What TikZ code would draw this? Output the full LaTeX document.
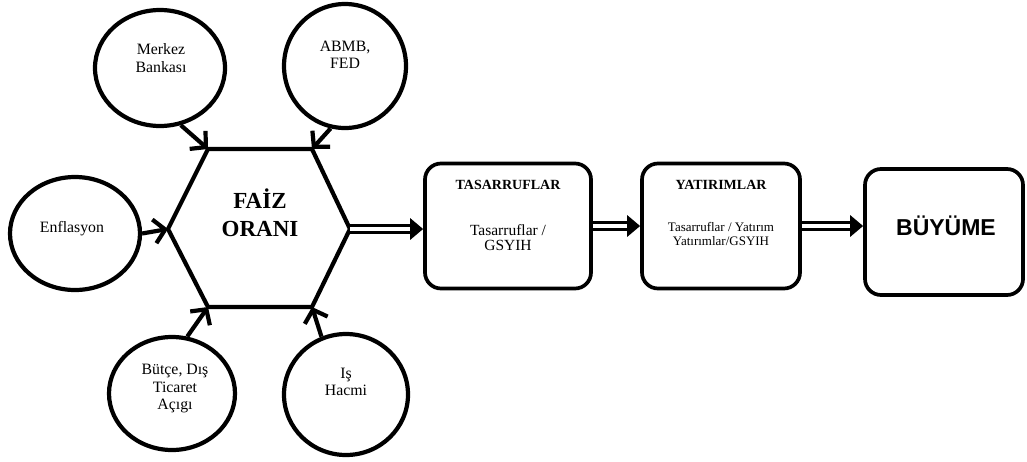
\documentclass[tikz,border=0pt]{standalone}
\usepackage{fontspec}
\setmainfont{Liberation Serif}
\newfontfamily\arialfont{Liberation Sans}
\usetikzlibrary{shapes.geometric,arrows.meta}
\begin{document}
\begin{tikzpicture}[x=1pt,y=-1pt,
  bubble/.style={ellipse, draw, line width=4.2pt, inner sep=0pt},
  bubbletext/.style={align=center, font=\fontsize{15.8}{17.5}\selectfont, inner sep=0pt},
  hexline/.style={line width=4.2pt, line join=miter},
  stepbox/.style={draw, rounded corners=16pt, line width=3.7pt, inner sep=0pt},
  boxtitle/.style={font=\bfseries\fontsize{14}{16}\selectfont, inner sep=0pt},
  boxbody/.style={align=center, inner sep=0pt},
  inarrow/.style={line width=4.2pt, -{Straight Barb[length=11pt,width=24pt]}},
  dblarrow/.style={double, double distance=4pt, line width=3.2pt, -{Triangle[length=13pt,width=21pt]}}
]
\useasboundingbox (0,0) rectangle (1027,461);

% surrounding bubbles
\node[bubble, minimum width=130pt, minimum height=116pt] (merkez) at (160,68) {};
\node[bubbletext] (merkezT) at (161,58) {Merkez\\Bankası};
\node[bubble, minimum width=122pt, minimum height=124pt] (abmb) at (345,66) {};
\node[bubbletext] (abmbT) at (345,55) {ABMB,\\FED};
\node[bubble, minimum width=130pt, minimum height=113pt] (enf) at (75,233.5) {};
\node[bubbletext] (enfT) at (72,228.5) {Enflasyon};
\node[bubble, minimum width=126pt, minimum height=113pt] (butce) at (172,393.5) {};
\node[bubbletext] (butceT) at (175,389) {Bütçe, Dış\\Ticaret\\Açıgı};
\node[bubble, minimum width=124pt, minimum height=121pt] (is) at (346,394.5) {};
\node[bubbletext] (isT) at (346,382) {Iş\\Hacmi};

% hexagon
\coordinate (hTL) at (208,149);
\coordinate (hTR) at (312,149);
\coordinate (hR) at (350,229);
\coordinate (hBR) at (312,307);
\coordinate (hBL) at (208,307);
\coordinate (hL) at (168,229);
\draw[hexline] (hTL) -- (hTR) -- (hR) -- (hBR) -- (hBL) -- (hL) -- cycle;
\node[align=center, font=\bfseries\fontsize{23}{28}\selectfont, inner sep=0pt] (faiz) at (260,213) {FAİZ\\ORANI};

% boxes
\node[stepbox, minimum width=166pt, minimum height=125pt] (tas) at (508,226) {};
\node[boxtitle] (tasT) at (508,184.5) {TASARRUFLAR};
\node[boxbody, font=\fontsize{15.5}{15}\selectfont] (tasB) at (508,238) {Tasarruflar /\\GSYIH};
\node[stepbox, minimum width=158pt, minimum height=125pt] (yat) at (721,226) {};
\node[boxtitle] (yatT) at (721,184.5) {YATIRIMLAR};
\node[boxbody, font=\fontsize{13}{14}\selectfont] (yatB) at (721,234) {Tasarruflar / Yatırım\\Yatırımlar/GSYIH};
\node[stepbox, minimum width=158pt, minimum height=126pt] (buy) at (944,232) {};
\node[font=\arialfont\bfseries\fontsize{23}{26}\selectfont, inner sep=0pt] (buyT) at (946,226) {BÜYÜME};

% incoming arrows
\draw[inarrow] (merkez.-70) -- (hTL);
\draw[inarrow] (abmb.-103) -- (hTR);
\draw[inarrow] (enf.0) -- (hL);
\draw[inarrow] (butce.75) -- (hBL);
\draw[inarrow] (is.113) -- (hBR);

% chain arrows
\draw[dblarrow] (hR) -- (hR -| tas.west);
\draw[dblarrow] (tas.east) -- (yat.west);
\draw[dblarrow] (yat.east) -- (yat.east -| buy.west);
\end{tikzpicture}
\end{document}
